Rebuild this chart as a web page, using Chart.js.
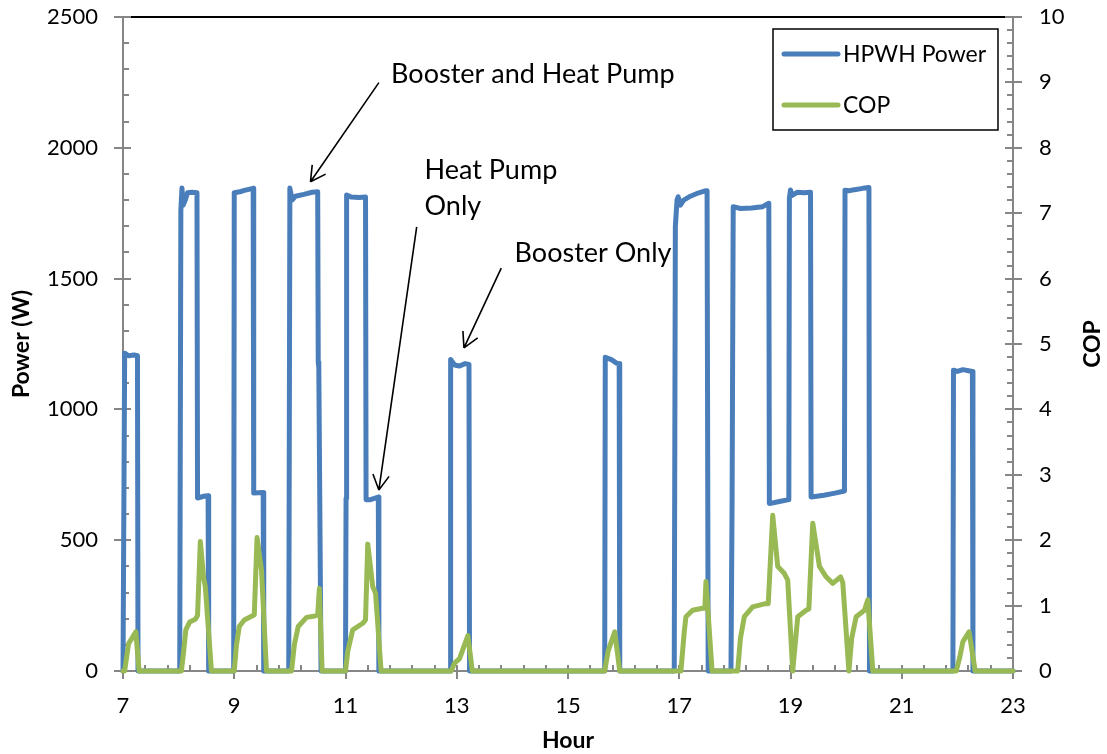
<!DOCTYPE html>
<html>
<head>
<meta charset="utf-8">
<script src="https://cdn.jsdelivr.net/npm/chart.js@4.4.1/dist/chart.umd.min.js"></script>
<style>
  html, body { margin: 0; padding: 0; background: #fff; }
  #wrap { width: 1107px; height: 754px; }
</style>
</head>
<body>
<div id="wrap"><canvas id="chart" width="1107" height="754"></canvas></div>
<script>
// HPWH power draw (hour of day, watts)
const powerHours = [
  7.00, 7.03, 7.10, 7.20, 7.26, 7.27,
  8.02, 8.04, 8.06, 8.08, 8.12, 8.16, 8.24, 8.33, 8.34, 8.45, 8.53, 8.54,
  8.99, 9.00, 9.10, 9.20, 9.34, 9.35, 9.52, 9.53,
  9.98, 10.00, 10.04, 10.10, 10.25, 10.40, 10.50, 10.51, 10.52, 10.56,
  11.00, 11.01, 11.02, 11.10, 11.25, 11.36, 11.37, 11.45, 11.59, 11.60,
  12.88, 12.89, 12.96, 13.05, 13.15, 13.22, 13.23,
  15.66, 15.67, 15.78, 15.88, 15.92, 15.93,
  16.91, 16.93, 16.96, 16.98, 17.02, 17.08, 17.20, 17.35, 17.48, 17.50, 17.52,
  17.93, 17.95, 17.97, 18.10, 18.30, 18.50, 18.61, 18.62, 18.80, 18.97,
  18.98, 19.00, 19.03, 19.12, 19.25, 19.36, 19.37, 19.60, 19.80, 19.97,
  19.98, 20.05, 20.15, 20.30, 20.41, 20.42,
  21.92, 21.93, 22.00, 22.10, 22.20, 22.27, 22.28, 23.00
];
const powerW = [
  0, 1215, 1205, 1208, 1205, 0,
  0, 1760, 1846, 1780, 1800, 1828, 1830, 1828, 661, 668, 670, 0,
  0, 1828, 1832, 1838, 1845, 680, 682, 0,
  0, 1846, 1800, 1815, 1822, 1830, 1832, 1180, 1160, 0,
  0, 660, 1820, 1812, 1810, 1812, 655, 655, 665, 0,
  0, 1191, 1170, 1166, 1175, 1172, 0,
  0, 1199, 1190, 1176, 1175, 0,
  0, 1700, 1800, 1813, 1781, 1800, 1815, 1828, 1836, 1836, 0,
  0, 654, 1775, 1768, 1770, 1775, 1788, 640, 648, 655,
  1807, 1839, 1818, 1830, 1828, 1830, 665, 672, 680, 688,
  1838, 1836, 1840, 1845, 1848, 0,
  0, 1150, 1145, 1152, 1148, 1145, 0, 0
];

// Coefficient of performance (right axis)
const copHours = [
  7.00, 7.03, 7.10, 7.16, 7.23, 7.29,
  8.05, 8.09, 8.13, 8.20, 8.30, 8.34, 8.39, 8.45, 8.48, 8.59,
  9.00, 9.04, 9.09, 9.18, 9.32, 9.36, 9.41, 9.49, 9.58,
  10.03, 10.08, 10.15, 10.30, 10.45, 10.50, 10.53, 10.58,
  11.00, 11.04, 11.13, 11.31, 11.36, 11.40, 11.49, 11.54, 11.64,
  12.90, 12.96, 13.05, 13.20, 13.28,
  15.66, 15.72, 15.84, 15.93,
  17.03, 17.09, 17.12, 17.24, 17.42, 17.46, 17.48, 17.59,
  18.05, 18.10, 18.17, 18.32, 18.55, 18.60, 18.68, 18.77, 18.89, 18.95, 19.04,
  19.13, 19.28, 19.33, 19.40, 19.52, 19.64, 19.76, 19.90, 19.94, 20.05,
  20.10, 20.18, 20.33, 20.39, 20.48,
  21.98, 22.04, 22.10, 22.21, 22.32, 23.00
];
const copValues = [
  0, 0, 0.42, 0.50, 0.60, 0,
  0, 0.30, 0.63, 0.75, 0.79, 0.85, 1.98, 1.42, 1.29, 0,
  0, 0.40, 0.68, 0.78, 0.84, 0.86, 2.04, 1.54, 0,
  0, 0.40, 0.68, 0.82, 0.84, 0.86, 1.26, 0,
  0, 0.30, 0.63, 0.73, 0.78, 1.94, 1.29, 1.19, 0,
  0, 0.12, 0.19, 0.54, 0,
  0, 0.30, 0.60, 0,
  0, 0.60, 0.83, 0.93, 0.96, 0.96, 1.37, 0,
  0, 0.50, 0.83, 0.98, 1.03, 1.03, 2.38, 1.60, 1.49, 1.39, 0,
  0.83, 0.93, 0.95, 2.26, 1.60, 1.44, 1.34, 1.44, 1.35, 0,
  0.50, 0.83, 0.93, 1.09, 0,
  0, 0.20, 0.45, 0.60, 0, 0
];

const hourTicks = [7, 9, 11, 13, 15, 17, 19, 21, 23];
const powerTicks = [0, 500, 1000, 1500, 2000, 2500];
const copTicks = [0, 1, 2, 3, 4, 5, 6, 7, 8, 9, 10];
const minorStep = {x: 0.4, y: 100, y1: 0.2};

// callouts: text lines at [hour, W], arrow from -> to in [hour, W]
const notes = [
  {lines: ["Booster and Heat Pump"], at: [11.82, 2247], from: [11.60, 2249], to: [10.37, 1870]},
  {lines: ["Heat Pump", "Only"], at: [12.42, 1880], from: [12.28, 1698], to: [11.60, 692]},
  {lines: ["Booster Only"], at: [14.04, 1565], from: [13.80, 1540], to: [13.13, 1235]},
];

const blue = "#4A7EBB";
const green = "#98B954";
const axisGrey = "#868686";
const fontFamily = "Lato, 'Open Sans', sans-serif";

function toPoints(xs, ys) {
  return xs.map((x, i) => ({x, y: ys[i]}));
}

function fixTicks(values) {
  return scale => {
    scale.ticks = values.map(v => ({value: v}));
  };
}

// hidden tick marks give the label gap without padding the chart area
function gap(len) {
  return {display: true, drawOnChartArea: false, drawTicks: true, tickLength: len, color: "rgba(0,0,0,0)"};
}

const decor = {
  id: "decor",
  beforeDatasetsDraw(chart) {
    const {ctx, chartArea} = chart;
    const {left, right, top, bottom} = chartArea;
    const x = chart.scales.x;
    const y = chart.scales.y;
    const y1 = chart.scales.y1;
    ctx.save();
    // top border
    ctx.strokeStyle = "#000";
    ctx.lineWidth = 2;
    ctx.beginPath();
    ctx.moveTo(left, top);
    ctx.lineTo(right, top);
    ctx.stroke();

    ctx.strokeStyle = axisGrey;
    ctx.lineWidth = 2;
    ctx.beginPath();
    ctx.moveTo(left, top - 1);
    ctx.lineTo(left, bottom + 1);
    ctx.moveTo(right, top - 1);
    ctx.lineTo(right, bottom + 1);
    ctx.moveTo(left, bottom);
    ctx.lineTo(right, bottom);

    // minor ticks, inside
    for (let v = x.min; v <= x.max + 1e-6; v += minorStep.x) {
      const px = Math.round(x.getPixelForValue(v));
      ctx.moveTo(px, bottom);
      ctx.lineTo(px, bottom - 6);
    }
    for (let v = y.min; v <= y.max + 1e-6; v += minorStep.y) {
      const py = Math.round(y.getPixelForValue(v));
      ctx.moveTo(left, py);
      ctx.lineTo(left + 6, py);
    }
    for (let v = y1.min; v <= y1.max + 1e-6; v += minorStep.y1) {
      const py = Math.round(y1.getPixelForValue(v));
      ctx.moveTo(right, py);
      ctx.lineTo(right - 6, py);
    }
    // major ticks, crossing
    for (const v of hourTicks) {
      const px = Math.round(x.getPixelForValue(v));
      ctx.moveTo(px, bottom - 6);
      ctx.lineTo(px, bottom + 8);
    }
    for (const v of powerTicks) {
      const py = Math.round(y.getPixelForValue(v));
      ctx.moveTo(left - 9, py);
      ctx.lineTo(left + 8, py);
    }
    for (const v of copTicks) {
      const py = Math.round(y1.getPixelForValue(v));
      ctx.moveTo(right - 8, py);
      ctx.lineTo(right + 9, py);
    }
    ctx.stroke();
    ctx.restore();
  },
  afterDraw(chart) {
    const {ctx, chartArea} = chart;
    const x = chart.scales.x;
    const y = chart.scales.y;
    ctx.save();

    // legend box
    const bx = chartArea.right - 240;
    const by = chartArea.top + 12;
    ctx.strokeStyle = "#000";
    ctx.lineWidth = 1.5;
    ctx.strokeRect(bx, by, 225, 101);
    ctx.font = `23px ${fontFamily}`;
    ctx.textBaseline = "middle";
    ctx.textAlign = "left";
    chart.data.datasets.forEach((ds, i) => {
      const ly = by + 25 + i * 51;
      ctx.strokeStyle = ds.borderColor;
      ctx.lineWidth = 5;
      ctx.lineCap = "round";
      ctx.beginPath();
      ctx.moveTo(bx + 11, ly);
      ctx.lineTo(bx + 65, ly);
      ctx.stroke();
      ctx.fillStyle = "#000";
      ctx.fillText(ds.label, bx + 70, ly + 1);
    });

    // right axis title, reads bottom to top
    const t = chart.options.scales.y1.title;
    ctx.font = `bold 23px ${fontFamily}`;
    ctx.textAlign = "center";
    ctx.textBaseline = "middle";
    ctx.translate(1093, (chartArea.top + chartArea.bottom) / 2);
    ctx.rotate(-Math.PI / 2);
    ctx.fillStyle = "#000";
    ctx.fillText(t.text, 0, 0);
    ctx.setTransform(1, 0, 0, 1, 0, 0);

    // callouts
    ctx.font = `27px ${fontFamily}`;
    ctx.textAlign = "left";
    ctx.textBaseline = "alphabetic";
    ctx.strokeStyle = "#000";
    ctx.lineWidth = 1.6;
    ctx.lineCap = "butt";
    for (const n of notes) {
      const tx = x.getPixelForValue(n.at[0]);
      const ty = y.getPixelForValue(n.at[1]);
      n.lines.forEach((s, i) => ctx.fillText(s, tx, ty + i * 36));
      const x0 = x.getPixelForValue(n.from[0]);
      const y0 = y.getPixelForValue(n.from[1]);
      const x1 = x.getPixelForValue(n.to[0]);
      const y1p = y.getPixelForValue(n.to[1]);
      const ang = Math.atan2(y1p - y0, x1 - x0);
      ctx.beginPath();
      ctx.moveTo(x0, y0);
      ctx.lineTo(x1, y1p);
      for (const d of [-0.5, 0.5]) {
        ctx.moveTo(x1, y1p);
        ctx.lineTo(x1 - 17 * Math.cos(ang + d), y1p - 17 * Math.sin(ang + d));
      }
      ctx.stroke();
    }
    ctx.restore();
  },
};

const tickFont = {family: fontFamily, size: 22};
const titleFont = {family: fontFamily, size: 23, weight: "bold"};

function draw() {
  new Chart(document.querySelector("#chart"), {
    type: "line",
    data: {
      datasets: [
        {
          label: "HPWH Power",
          data: toPoints(powerHours, powerW),
          borderColor: blue,
          backgroundColor: blue,
          borderWidth: 5,
          pointRadius: 0,
          tension: 0,
          borderJoinStyle: "round",
          borderCapStyle: "round",
          yAxisID: "y",
          order: 2,
          clip: 8,
        },
        {
          label: "COP",
          data: toPoints(copHours, copValues),
          borderColor: green,
          backgroundColor: green,
          borderWidth: 5,
          pointRadius: 0,
          tension: 0,
          borderJoinStyle: "round",
          borderCapStyle: "round",
          yAxisID: "y1",
          order: 1,
          clip: 8,
        },
      ],
    },
    options: {
      responsive: false,
      animation: false,
      devicePixelRatio: 1,
      layout: {padding: {top: 17, left: 0, right: 0, bottom: 0}},
      plugins: {legend: {display: false}, tooltip: {enabled: false}},
      scales: {
        x: {
          type: "linear",
          min: 7,
          max: 23,
          afterBuildTicks: fixTicks(hourTicks),
          afterFit(scale) { scale.height = 83; },
          grid: gap(22),
          border: {display: false},
          ticks: {color: "#000", padding: 0, maxRotation: 0, font: tickFont, callback: v => String(v)},
          title: {display: true, text: "Hour", color: "#000", padding: {top: 0, bottom: 0}, font: titleFont},
        },
        y: {
          type: "linear",
          position: "left",
          min: 0,
          max: 2500,
          afterBuildTicks: fixTicks(powerTicks),
          afterFit(scale) { scale.width = 123; },
          grid: gap(25),
          border: {display: false},
          ticks: {color: "#000", padding: 0, font: tickFont, callback: v => String(v)},
          title: {display: true, text: "Power (W)", color: "#000", padding: {top: 8, bottom: 0}, font: titleFont},
        },
        y1: {
          type: "linear",
          position: "right",
          min: 0,
          max: 10,
          afterBuildTicks: fixTicks(copTicks),
          afterFit(scale) { scale.width = 94; },
          grid: gap(26),
          border: {display: false},
          ticks: {color: "#000", padding: 0, font: tickFont, callback: v => String(v)},
          title: {display: false, text: "COP"},
        },
      },
    },
    plugins: [decor],
  });
}

document.fonts.load(`22px Lato`).then(draw, draw);
</script>
</body>
</html>
